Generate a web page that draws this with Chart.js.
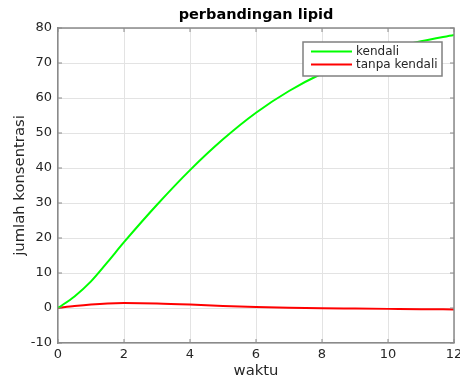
<!DOCTYPE html>
<html>
<head>
<meta charset="utf-8">
<script src="https://cdn.jsdelivr.net/npm/chart.js@4/dist/chart.umd.min.js"></script>
<style>
html, body { margin: 0; padding: 0; background: #fff; }
</style>
</head>
<body>
<canvas id="lipidChart" width="460" height="380"></canvas>
<script>
// values
const waktu = [0, 0.5, 1, 1.5, 2, 3, 4, 5, 6, 7, 8, 9, 10, 11, 12];
const kendali = [0, 3.3, 7.6, 13.1, 18.8, 29.5, 39.4, 48.2, 55.8, 62, 67, 70.9, 73.9, 76.2, 78];
const tanpaKendali = [0, 0.55, 1.0, 1.3, 1.4, 1.3, 1.0, 0.6, 0.3, 0.1, -0.05, -0.15, -0.25, -0.35, -0.4];
const xTicks = [0, 2, 4, 6, 8, 10, 12];
const yTicks = [-10, 0, 10, 20, 30, 40, 50, 60, 70, 80];

const axisColor = '#8a8a8a';
const textColor = '#262626';

// top/right frame + inward tick marks, like a matlab box
const frame = {
    id: 'frame',
    afterDatasetsDraw(chart) {
        const {ctx, chartArea: a, scales} = chart;
        ctx.save();
        ctx.strokeStyle = axisColor;
        ctx.lineWidth = 1.5;
        ctx.beginPath();
        ctx.moveTo(a.left, a.top); ctx.lineTo(a.right, a.top);
        ctx.lineTo(a.right, a.bottom);
        ctx.stroke();
        ctx.lineWidth = 1;
        xTicks.forEach(v => {
            const px = scales.x.getPixelForValue(v);
            ctx.beginPath();
            ctx.moveTo(px, a.top); ctx.lineTo(px, a.top + 4);
            ctx.moveTo(px, a.bottom); ctx.lineTo(px, a.bottom - 4);
            ctx.stroke();
        });
        yTicks.forEach(v => {
            const py = scales.y.getPixelForValue(v);
            ctx.beginPath();
            ctx.moveTo(a.left, py); ctx.lineTo(a.left + 4, py);
            ctx.moveTo(a.right, py); ctx.lineTo(a.right - 4, py);
            ctx.stroke();
        });
        ctx.restore();
    }
};

// legend box inside the plot, top right
const legendBox = {
    id: 'legendBox',
    afterDatasetsDraw(chart) {
        const {ctx, chartArea} = chart;
        const x1 = chartArea.right - 12, x0 = x1 - 139;
        const y0 = chartArea.top + 14, h = 34;
        ctx.save();
        ctx.fillStyle = '#fff';
        ctx.fillRect(x0, y0, x1 - x0, h);
        ctx.strokeStyle = '#808080';
        ctx.lineWidth = 1.5;
        ctx.strokeRect(x0, y0, x1 - x0, h);
        ctx.font = '12px "DejaVu Sans"';
        ctx.textBaseline = 'middle';
        chart.data.datasets.forEach((ds, i) => {
            const y = y0 + 9.5 + i * 13;
            ctx.strokeStyle = ds.borderColor;
            ctx.lineWidth = 2;
            ctx.beginPath();
            ctx.moveTo(x0 + 8, y); ctx.lineTo(x0 + 49, y);
            ctx.stroke();
            ctx.fillStyle = textColor;
            ctx.fillText(ds.label, x0 + 53, y + 0.5);
        });
        ctx.restore();
    }
};

new Chart(document.getElementById('lipidChart'), {
    type: 'line',
    data: {
        datasets: [{
            label: 'kendali',
            data: waktu.map((t, i) => ({x: t, y: kendali[i]})),
            borderColor: '#00ff00',
            borderWidth: 2,
            pointRadius: 0,
            cubicInterpolationMode: 'monotone'
        }, {
            label: 'tanpa kendali',
            data: waktu.map((t, i) => ({x: t, y: tanpaKendali[i]})),
            borderColor: '#ff0000',
            borderWidth: 2,
            pointRadius: 0,
            cubicInterpolationMode: 'monotone'
        }]
    },
    options: {
        responsive: false,
        animation: false,
        layout: { padding: { left: 0, right: 6, top: 0, bottom: 0 } },
        plugins: {
            legend: { display: false },
            tooltip: { enabled: false },
            title: {
                display: true,
                fullSize: false,
                text: 'perbandingan lipid',
                color: '#000',
                font: { family: 'DejaVu Sans', size: 14.5, weight: 'bold' },
                padding: { top: 7, bottom: 3.6 }
            }
        },
        scales: {
            x: {
                type: 'linear',
                min: 0,
                max: 12,
                afterBuildTicks: s => { s.ticks = xTicks.map(v => ({value: v})); },
                afterFit: s => { s.height = 37; s.paddingLeft = 0; s.paddingRight = 0; },
                grid: { color: '#e3e3e3', drawTicks: false },
                border: { color: axisColor, width: 1.5 },
                ticks: {
                    padding: 4,
                    color: textColor,
                    font: { family: 'DejaVu Sans', size: 13 }
                },
                title: {
                    display: true,
                    text: 'waktu',
                    color: textColor,
                    font: { family: 'DejaVu Sans', size: 14.8 },
                    padding: { top: 0, bottom: 0 }
                }
            },
            y: {
                min: -10,
                max: 80,
                afterBuildTicks: s => { s.ticks = yTicks.map(v => ({value: v})); },
                afterFit: s => { s.width = 58; s.paddingTop = 0; s.paddingBottom = 0; },
                grid: { color: '#e3e3e3', drawTicks: false },
                border: { color: axisColor, width: 1.5 },
                ticks: {
                    padding: 6,
                    color: textColor,
                    font: { family: 'DejaVu Sans', size: 13 }
                },
                title: {
                    display: true,
                    text: 'jumlah konsentrasi',
                    color: textColor,
                    font: { family: 'DejaVu Sans', size: 14.8 },
                    padding: { top: 11, bottom: 0 }
                }
            }
        }
    },
    plugins: [frame, legendBox]
});
</script>
</body>
</html>
